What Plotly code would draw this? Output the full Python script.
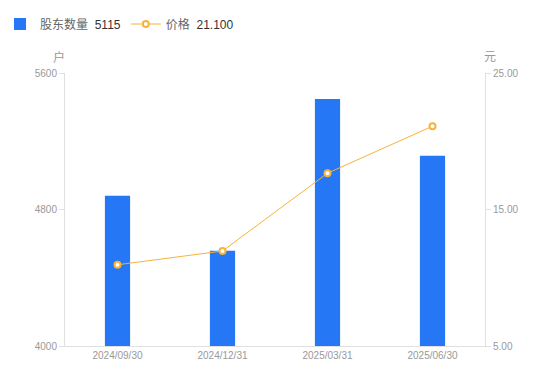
import plotly.graph_objects as go

dates = ["2024/09/30", "2024/12/31", "2025/03/31", "2025/06/30"]
holders = [4880, 4558, 5448, 5115]
prices = [10.95, 11.96, 17.66, 21.10]

left_ticks = [4000, 4800, 5600]
right_ticks = [5, 15, 25]

BLUE = "#2677F5"
ORANGE = "#F7B23B"
GRAY = "#999999"
FONT = "Liberation Sans, Noto Sans CJK SC, sans-serif"

fig = go.Figure()
fig.add_trace(go.Bar(
    x=dates, y=holders, name='股东数量  <span style="color:#333333">5115</span>',
    marker=dict(color=BLUE, line=dict(width=0)), width=0.24, yaxis="y",
))
fig.add_trace(go.Scatter(
    x=dates, y=prices, name='价格  <span style="color:#333333">21.100</span>',
    mode="lines+markers", yaxis="y2",
    line=dict(color=ORANGE, width=1),
    marker=dict(symbol="circle", size=6, color="white", line=dict(color=ORANGE, width=2)),
))

fig.update_layout(
    width=550, height=381,
    margin=dict(l=65, r=65, t=73, b=35),
    plot_bgcolor="white", paper_bgcolor="white",
    font=dict(family=FONT, size=12, color="#666666"),
    showlegend=True,
    legend=dict(orientation="h", x=0.0, y=1 - 24 / 381, xref="container", yref="container",
                xanchor="left", yanchor="middle", font=dict(size=12, color="#666666"),
                itemwidth=30, tracegroupgap=0, bgcolor="rgba(0,0,0,0)"),
    bargap=0.76,
    xaxis=dict(
        type="category", showgrid=False, showline=True, linecolor="#E0E0E0", linewidth=1,
        ticks="", tickfont=dict(size=10, color=GRAY), zeroline=False,
    ),
    yaxis=dict(
        range=[left_ticks[0], left_ticks[-1]], tickvals=left_ticks,
        ticktext=[str(v) for v in left_ticks],
        showgrid=False, showline=True, linecolor="#E0E0E0", linewidth=1,
        ticks="outside", ticklen=5, tickcolor="#E0E0E0",
        tickfont=dict(size=10, color=GRAY), zeroline=False,
    ),
    yaxis2=dict(
        overlaying="y", side="right",
        range=[right_ticks[0], right_ticks[-1]], tickvals=right_ticks,
        ticktext=[f"{v:.2f}" for v in right_ticks],
        showgrid=False, showline=True, linecolor="#E0E0E0", linewidth=1,
        ticks="outside", ticklen=5, tickcolor="#E0E0E0",
        tickfont=dict(size=10, color=GRAY), zeroline=False,
    ),
    annotations=[
        dict(text="户", x=-0.015, y=1.0, xref="paper", yref="paper", yshift=16,
             showarrow=False, xanchor="center", yanchor="middle",
             font=dict(size=12, color=GRAY)),
        dict(text="元", x=1.012, y=1.0, xref="paper", yref="paper", yshift=16,
             showarrow=False, xanchor="center", yanchor="middle",
             font=dict(size=12, color=GRAY)),
    ],
)

fig.write_html("out.html")
